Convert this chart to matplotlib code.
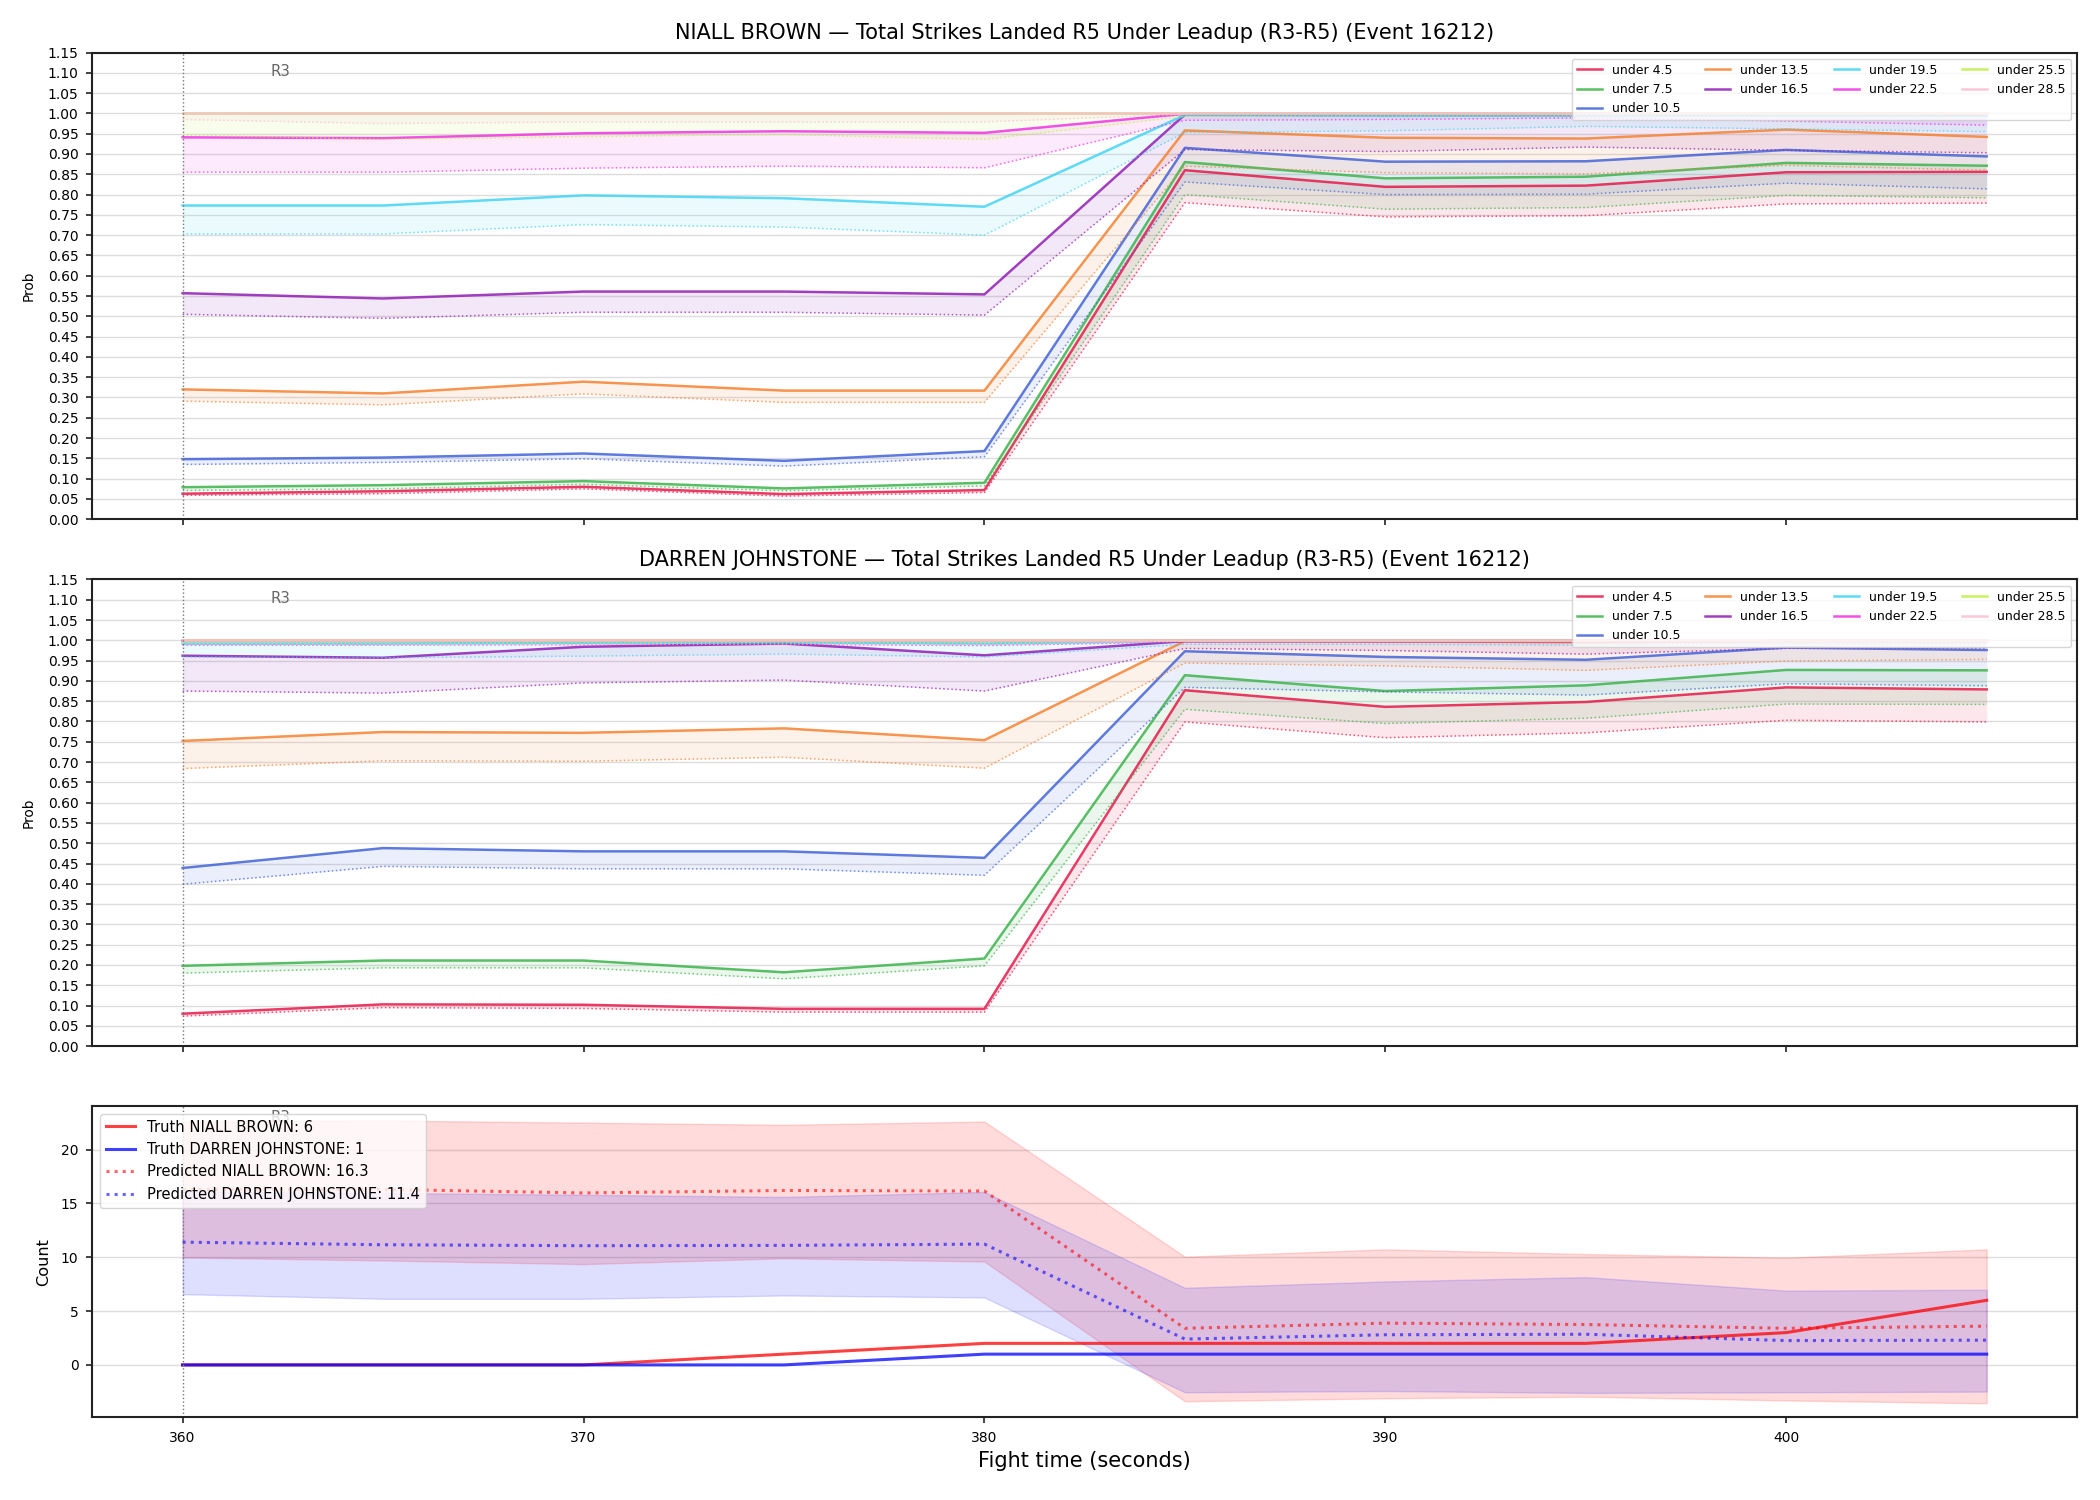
import numpy as np
import matplotlib.pyplot as plt
import matplotlib.transforms as mtransforms

# fight time (seconds)
t = [360, 365, 370, 375, 380, 385, 390, 395, 400, 405]

lines_names = ['under 4.5', 'under 7.5', 'under 10.5', 'under 13.5', 'under 16.5',
               'under 19.5', 'under 22.5', 'under 25.5', 'under 28.5']
line_colors = ['#e6194b', '#3cb44b', '#4363d8', '#f58231', '#911eb4',
               '#42d4f4', '#f032e6', '#bfef45', '#fabed4']

# NIALL BROWN: probability (solid) and lower band (dotted)
nb_prob = [
    [0.063, 0.069, 0.080, 0.062, 0.072, 0.860, 0.819, 0.822, 0.855, 0.856],
    [0.079, 0.084, 0.094, 0.076, 0.090, 0.880, 0.840, 0.844, 0.878, 0.871],
    [0.148, 0.152, 0.162, 0.144, 0.168, 0.915, 0.881, 0.882, 0.910, 0.894],
    [0.320, 0.310, 0.339, 0.317, 0.317, 0.958, 0.940, 0.938, 0.960, 0.942],
    [0.557, 0.544, 0.561, 0.561, 0.554, 0.997, 0.996, 0.996, 0.996, 0.996],
    [0.773, 0.773, 0.798, 0.791, 0.770, 0.996, 0.994, 0.995, 0.995, 0.994],
    [0.941, 0.939, 0.951, 0.956, 0.952, 0.999, 0.999, 0.999, 0.999, 0.998],
    [1.000, 1.000, 1.000, 1.000, 1.000, 1.000, 1.000, 1.000, 1.000, 1.000],
    [1.000, 1.000, 1.000, 1.000, 1.000, 1.000, 1.000, 1.000, 1.000, 1.000],
]
nb_low = [
    [0.059, 0.063, 0.075, 0.057, 0.066, 0.780, 0.745, 0.748, 0.777, 0.779],
    [0.071, 0.075, 0.086, 0.070, 0.082, 0.800, 0.764, 0.768, 0.798, 0.792],
    [0.135, 0.140, 0.149, 0.131, 0.154, 0.831, 0.800, 0.801, 0.828, 0.814],
    [0.291, 0.282, 0.309, 0.288, 0.288, 0.870, 0.854, 0.851, 0.872, 0.860],
    [0.505, 0.495, 0.510, 0.510, 0.503, 0.911, 0.906, 0.917, 0.909, 0.903],
    [0.703, 0.703, 0.726, 0.720, 0.700, 0.953, 0.957, 0.968, 0.962, 0.955],
    [0.855, 0.855, 0.865, 0.870, 0.866, 0.983, 0.985, 0.989, 0.981, 0.971],
    [0.947, 0.936, 0.943, 0.948, 0.936, 0.993, 0.994, 0.995, 0.993, 0.992],
    [0.985, 0.975, 0.979, 0.979, 0.979, 0.998, 0.998, 0.999, 0.998, 0.998],
]

# DARREN JOHNSTONE
dj_prob = [
    [0.080, 0.103, 0.102, 0.092, 0.092, 0.877, 0.836, 0.848, 0.884, 0.879],
    [0.198, 0.211, 0.211, 0.182, 0.216, 0.914, 0.875, 0.889, 0.927, 0.926],
    [0.439, 0.488, 0.480, 0.480, 0.464, 0.973, 0.959, 0.952, 0.982, 0.976],
    [0.752, 0.774, 0.772, 0.783, 0.754, 0.998, 0.997, 0.995, 0.998, 0.998],
    [0.962, 0.957, 0.984, 0.992, 0.963, 0.998, 0.998, 0.998, 0.999, 0.999],
    [0.992, 0.992, 0.994, 0.995, 0.992, 0.999, 0.999, 0.999, 0.999, 0.999],
    [0.999, 0.999, 0.999, 0.999, 0.999, 1.000, 1.000, 1.000, 1.000, 1.000],
    [1.000, 1.000, 1.000, 1.000, 1.000, 1.000, 1.000, 1.000, 1.000, 1.000],
    [1.000, 1.000, 1.000, 1.000, 1.000, 1.000, 1.000, 1.000, 1.000, 1.000],
]
dj_low = [
    [0.074, 0.095, 0.093, 0.084, 0.084, 0.799, 0.760, 0.772, 0.803, 0.799],
    [0.180, 0.193, 0.193, 0.166, 0.198, 0.830, 0.795, 0.808, 0.843, 0.842],
    [0.399, 0.443, 0.437, 0.437, 0.421, 0.884, 0.873, 0.865, 0.893, 0.888],
    [0.684, 0.703, 0.702, 0.712, 0.685, 0.944, 0.937, 0.926, 0.949, 0.953],
    [0.875, 0.870, 0.895, 0.902, 0.875, 0.980, 0.975, 0.966, 0.980, 0.981],
    [0.959, 0.957, 0.961, 0.966, 0.959, 0.990, 0.990, 0.988, 0.992, 0.992],
    [0.988, 0.988, 0.989, 0.990, 0.987, 0.996, 0.996, 0.995, 0.997, 0.997],
    [0.994, 0.993, 0.994, 0.995, 0.994, 0.998, 0.998, 0.998, 0.998, 0.998],
    [0.991, 0.990, 0.990, 0.991, 0.990, 0.998, 0.998, 0.998, 0.999, 0.999],
]

# counts
truth_nb = [0, 0, 0, 1, 2, 2, 2, 2, 3, 6]
truth_dj = [0, 0, 0, 0, 1, 1, 1, 1, 1, 1]
pred_nb = [16.3, 16.3, 15.97, 16.2, 16.15, 3.4, 3.88, 3.75, 3.4, 3.6]
pred_dj = [11.4, 11.16, 11.07, 11.1, 11.22, 2.4, 2.8, 2.85, 2.26, 2.3]
nb_hi = [22.6, 22.7, 22.5, 22.3, 22.6, 10.05, 10.73, 10.3, 9.95, 10.73]
nb_lo = [9.98, 9.7, 9.36, 9.9, 9.6, -3.38, -3.1, -2.95, -3.3, -3.57]
dj_hi = [16.1, 15.97, 15.8, 15.6, 16.06, 7.16, 7.75, 8.15, 6.9, 6.98]
dj_lo = [6.57, 6.14, 6.14, 6.45, 6.26, -2.54, -2.42, -2.6, -2.54, -2.48]

fighters = ['NIALL BROWN', 'DARREN JOHNSTONE']
title_tail = ' \u2014 Total Strikes Landed R5 Under Leadup (R3-R5) (Event 16212)'

fig, axes = plt.subplots(3, 1, figsize=(21, 15), dpi=100, sharex=True,
                         gridspec_kw={'height_ratios': [3, 3, 2]})
fig.subplots_adjust(left=0.044, right=0.989, top=0.965, bottom=0.055, hspace=0.145)


def style_ax(ax):
    for s in ax.spines.values():
        s.set_linewidth(1.5)
        s.set_color('#222222')
    ax.tick_params(labelsize=10, length=4.5, width=1.2, pad=5.5, color='#222222')
    ax.grid(axis='y', color='#dddddd', linewidth=1)
    ax.set_axisbelow(True)
    ax.axvline(360, color='#777777', linestyle=':', linewidth=1)
    trans = mtransforms.blended_transform_factory(ax.transData, ax.transAxes)
    ax.text(362.2, 0.95, 'R3', transform=trans, color='#666666', fontsize=10.8)


for ax, name, prob, low in zip(axes[:2], fighters, [nb_prob, dj_prob], [nb_low, dj_low]):
    for i in range(len(lines_names)):
        c = line_colors[i]
        ax.fill_between(t, low[i], prob[i], color=c, alpha=0.1, linewidth=0)
        ax.plot(t, low[i], color=c, linestyle=':', linewidth=1.1, alpha=0.7)
        ax.plot(t, prob[i], color=c, linewidth=1.8, alpha=0.85, label=lines_names[i])
    ax.set_ylim(0, 1.15)
    ax.set_yticks(np.arange(0, 1.151, 0.05))
    ax.set_yticklabels(['%.2f' % v for v in np.arange(0, 1.151, 0.05)])
    ax.set_ylabel('Prob', fontsize=9.8, labelpad=9)
    ax.set_title(name + title_tail, fontsize=15, pad=9.5)
    ax.legend(loc='upper right', ncol=4, fontsize=9)
    style_ax(ax)

ax = axes[2]
ax.fill_between(t, nb_lo, nb_hi, color='red', alpha=0.14)
ax.fill_between(t, dj_lo, dj_hi, color='blue', alpha=0.13)
ax.plot(t, truth_nb, color='red', linewidth=2.2, alpha=0.75, label='Truth NIALL BROWN: 6')
ax.plot(t, truth_dj, color='blue', linewidth=2.2, alpha=0.75, label='Truth DARREN JOHNSTONE: 1')
ax.plot(t, pred_nb, color='red', linestyle=':', linewidth=2.2, alpha=0.6,
        label='Predicted NIALL BROWN: 16.3')
ax.plot(t, pred_dj, color='blue', linestyle=':', linewidth=2.2, alpha=0.6,
        label='Predicted DARREN JOHNSTONE: 11.4')
ax.set_ylabel('Count', fontsize=11.6, labelpad=7)
ax.set_xlabel('Fight time (seconds)', fontsize=15)
ax.set_yticks([0, 5, 10, 15, 20])
ax.set_xticks([360, 370, 380, 390, 400])
style_ax(ax)
ax.legend(loc='upper left', fontsize=10.6)

fig.savefig('out.png', dpi=100)
